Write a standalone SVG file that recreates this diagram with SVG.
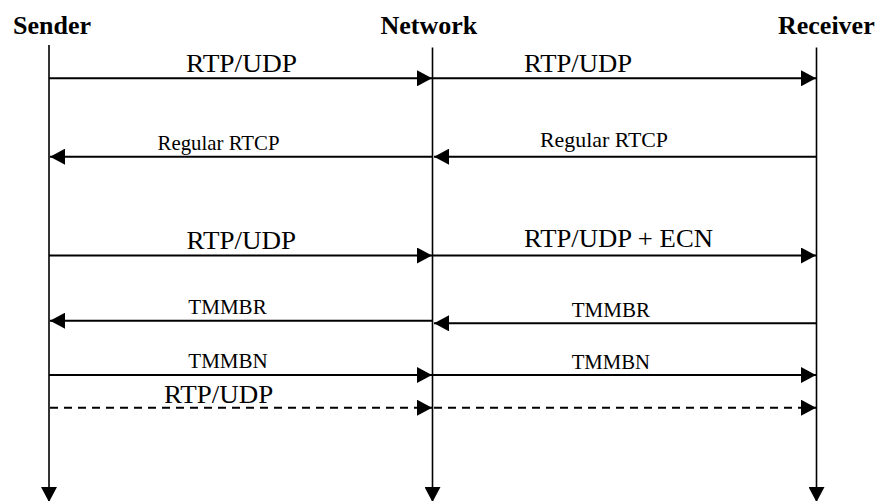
<svg xmlns="http://www.w3.org/2000/svg" width="882" height="501" viewBox="0 0 882 501">
  <style>
    .actor { font-family: "Liberation Serif", "Times New Roman", serif; font-weight: bold; font-size: 26px; fill: #000; }
    .big { font-family: "Liberation Serif", "Times New Roman", serif; font-size: 26px; fill: #000; }
    .small { font-family: "Liberation Serif", "Times New Roman", serif; font-size: 21px; fill: #000; }
    .life { stroke: #000; stroke-width: 1.6; fill: none; }
    .msg { stroke: #000; stroke-width: 2; fill: none; }
    .dash { stroke-dasharray: 8 6; }
  </style>
  <defs>
    <marker id="head" markerUnits="userSpaceOnUse" markerWidth="15" markerHeight="16" refX="15" refY="8" orient="auto">
      <path d="M0,0 L15,8 L0,16 z" fill="#000"/>
    </marker>
  </defs>
  <rect width="882" height="501" fill="#fff"/>

  <!-- participants with their lifelines -->
  <g id="sender">
    <text class="actor" x="13" y="34">Sender</text>
    <line class="life" x1="49" y1="45" x2="49" y2="502" marker-end="url(#head)"/>
  </g>
  <g id="network">
    <text class="actor" x="380.5" y="34">Network</text>
    <line class="life" x1="432.5" y1="47.5" x2="432.5" y2="502" marker-end="url(#head)"/>
  </g>
  <g id="receiver">
    <text class="actor" x="778" y="34">Receiver</text>
    <line class="life" x1="816.5" y1="47.5" x2="816.5" y2="502" marker-end="url(#head)"/>
  </g>

  <!-- messages -->
  <g id="connectors">
    <line class="msg" x1="49" y1="78.3" x2="432" y2="78.3" marker-end="url(#head)"/>
    <line class="msg" x1="433" y1="78.3" x2="816" y2="78.3" marker-end="url(#head)"/>

    <line class="msg" x1="432" y1="156.7" x2="50" y2="156.7" marker-end="url(#head)"/>
    <line class="msg" x1="816" y1="156.7" x2="434" y2="156.7" marker-end="url(#head)"/>

    <line class="msg" x1="49" y1="255.5" x2="432" y2="255.5" marker-end="url(#head)"/>
    <line class="msg" x1="433" y1="255.5" x2="816" y2="255.5" marker-end="url(#head)"/>

    <line class="msg" x1="432" y1="320.7" x2="50" y2="320.7" marker-end="url(#head)"/>
    <line class="msg" x1="816" y1="323.3" x2="434" y2="323.3" marker-end="url(#head)"/>

    <line class="msg" x1="49" y1="375" x2="432" y2="375" marker-end="url(#head)"/>
    <line class="msg" x1="433" y1="375" x2="816" y2="375" marker-end="url(#head)"/>

    <line class="msg dash" x1="50" y1="407.7" x2="432" y2="407.7" marker-end="url(#head)"/>
    <line class="msg dash" x1="434" y1="407.7" x2="816" y2="407.7" marker-end="url(#head)"/>
  </g>

  <!-- message labels -->
  <g id="labels">
    <text class="big" x="186" y="71.7" textLength="111" lengthAdjust="spacingAndGlyphs">RTP/UDP</text>
    <text class="big" x="524" y="71.7" textLength="108" lengthAdjust="spacingAndGlyphs">RTP/UDP</text>

    <text class="small" x="157.5" y="150" textLength="122" lengthAdjust="spacingAndGlyphs">Regular RTCP</text>
    <text class="small" x="540" y="147" textLength="128" lengthAdjust="spacingAndGlyphs">Regular RTCP</text>

    <text class="big" x="186.5" y="249.3" textLength="109.5" lengthAdjust="spacingAndGlyphs">RTP/UDP</text>
    <text class="big" x="524" y="246.7" textLength="189" lengthAdjust="spacingAndGlyphs">RTP/UDP + ECN</text>

    <text class="small" x="188.3" y="314.3" textLength="78.4" lengthAdjust="spacingAndGlyphs">TMMBR</text>
    <text class="small" x="571.7" y="316.7" textLength="78.3" lengthAdjust="spacingAndGlyphs">TMMBR</text>

    <text class="small" x="188.3" y="367.7" textLength="79.4" lengthAdjust="spacingAndGlyphs">TMMBN</text>
    <text class="small" x="571.7" y="369.3" textLength="78.3" lengthAdjust="spacingAndGlyphs">TMMBN</text>

    <text class="big" x="164" y="402.7" textLength="109.3" lengthAdjust="spacingAndGlyphs">RTP/UDP</text>
  </g>
</svg>
